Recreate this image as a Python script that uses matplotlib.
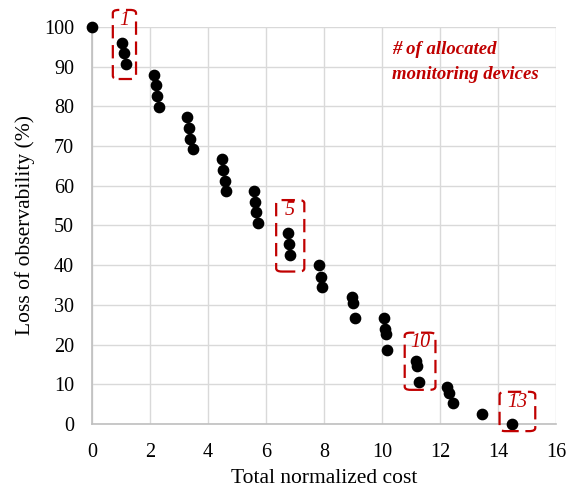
import matplotlib.pyplot as plt
from matplotlib.patches import FancyBboxPatch

plt.rcParams['font.family'] = ['Liberation Serif', 'DejaVu Serif']

# total normalized cost vs. loss of observability for each solution
cost = [0.0,
        1.03, 1.10, 1.17,
        2.14, 2.20, 2.24, 2.30,
        3.28, 3.34, 3.38, 3.48,
        4.48, 4.52, 4.59, 4.62,
        5.59, 5.62, 5.66, 5.72,
        6.76, 6.79, 6.83,
        7.84, 7.90, 7.93,
        8.95, 9.00, 9.05,
        10.05, 10.09, 10.12, 10.18,
        11.17, 11.21, 11.28,
        12.25, 12.30, 12.44,
        13.44,
        14.47]
loss = [100.0,
        96.0, 93.4, 90.7,
        87.9, 85.4, 82.6, 79.9,
        77.3, 74.6, 71.8, 69.3,
        66.8, 64.0, 61.2, 58.6,
        58.6, 56.0, 53.3, 50.7,
        48.0, 45.3, 42.6,
        40.0, 37.0, 34.5,
        32.0, 30.5, 26.6,
        26.7, 24.0, 22.7, 18.6,
        15.9, 14.6, 10.6,
        9.4, 7.9, 5.3,
        2.6,
        0.0]

# highlighted groups: label, box extent (x0, x1, y0, y1)
groups = ['1', '5', '10', '13']
boxes = [(0.72, 1.52, 86.9, 104.3),
         (6.35, 7.32, 38.4, 56.4),
         (10.78, 11.84, 8.6, 23.0),
         (14.05, 15.28, -1.8, 8.1)]

red = '#c00000'

fig = plt.figure(figsize=(5.71, 4.91), dpi=100)
ax = fig.add_axes([0.161, 0.1365, 0.813, 0.8085])

ax.scatter(cost, loss, s=55, color='black', zorder=3, clip_on=False)

for lab, (x0, x1, y0, y1) in zip(groups, boxes):
    box = FancyBboxPatch((x0, y0), x1 - x0, y1 - y0,
                         boxstyle='round,pad=0,rounding_size=0.2',
                         mutation_aspect=4.0,
                         fill=False, edgecolor=red, linewidth=1.6,
                         linestyle=(0, (6, 3)), clip_on=False, zorder=4)
    ax.add_patch(box)
    ax.text((x0 + x1) / 2, y1 - 2.6, lab, color=red, fontsize=14.5,
            style='italic', ha='center', va='center', zorder=5)

ax.text(10.33, 91.2, '# of allocated\nmonitoring devices', color=red,
        fontsize=13.5, style='italic', fontweight='bold', ha='left',
        va='center', linespacing=1.6)

ax.set_xlim(0, 16)
ax.set_ylim(0, 100)
ax.set_xticks(range(0, 17, 2))
ax.set_yticks(range(0, 101, 10))
ax.tick_params(length=0, labelsize=14.5)
ax.tick_params(axis='y', pad=13)
ax.tick_params(axis='x', pad=14)
ax.grid(True, color='#d9d9d9', linewidth=1.0)
ax.set_axisbelow(True)
for side in ['top', 'right']:
    ax.spines[side].set_visible(False)
for side in ['left', 'bottom']:
    ax.spines[side].set_color('#bfbfbf')
    ax.spines[side].set_linewidth(1.2)

ax.set_xlabel('Total normalized cost', fontsize=15.5, labelpad=5)
ax.set_ylabel('Loss of observability (%)', fontsize=15.5, labelpad=6)

fig.savefig('out.png', dpi=100)
